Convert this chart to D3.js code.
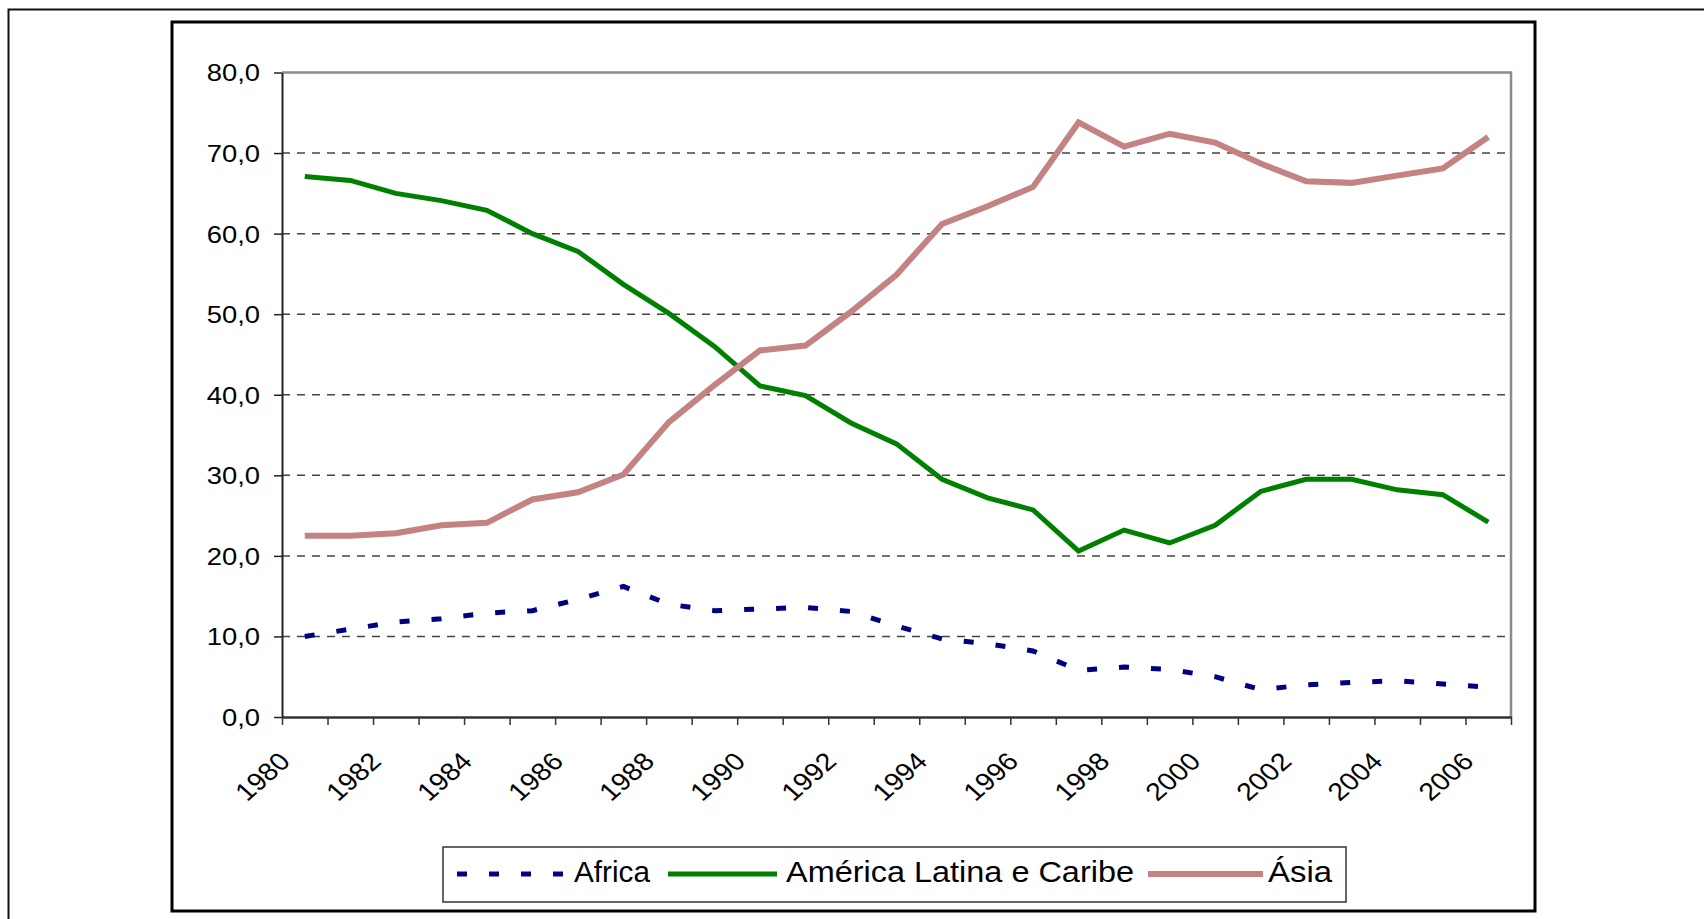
<!DOCTYPE html>
<html>
<head>
<meta charset="utf-8">
<script src="https://cdn.jsdelivr.net/npm/d3@7"></script>
<style>
  html, body { margin: 0; padding: 0; background: #fff; }
  svg { display: block; font-family: "Liberation Sans", Arial, sans-serif; }
</style>
</head>
<body>
<svg id="chart" width="1704" height="919"></svg>
<script>
// years on the category axis
const years = d3.range(1980, 2007);
const yearLabels = years.filter(y => y % 2 === 0);

// shares (%)
const africa = [10.0, 10.9, 11.8, 12.2, 12.9, 13.2, 14.6, 16.2, 14.0, 13.2,
                13.4, 13.6, 13.1, 11.3, 9.7, 9.1, 8.2, 5.8, 6.2, 5.9,
                5.0, 3.4, 4.0, 4.3, 4.5, 4.1, 3.7];
const americaLatina = [67.1, 66.6, 65.0, 64.1, 62.9, 60.0, 57.8, 53.7, 50.1, 46.0,
                       41.1, 39.9, 36.5, 33.9, 29.5, 27.2, 25.7, 20.6, 23.2, 21.6,
                       23.8, 28.0, 29.5, 29.5, 28.2, 27.6, 24.2];
const asia = [22.5, 22.5, 22.8, 23.8, 24.1, 27.0, 27.9, 30.1, 36.6, 41.2,
              45.5, 46.1, 50.3, 54.9, 61.2, 63.4, 65.8, 73.8, 70.8, 72.4,
              71.3, 68.7, 66.5, 66.3, 67.2, 68.1, 72.0];

const yTicks = [0, 10, 20, 30, 40, 50, 60, 70, 80];

const series = [
  { name: 'Africa', values: africa, color: '#000080', width: 5, dash: '10 22', textW: 76 },
  { name: 'América Latina e Caribe', values: americaLatina, color: '#008000', width: 5, dash: null, textW: 348 },
  { name: 'Ásia', values: asia, color: '#C48282', width: 6, dash: null, textW: 64 }
];

const svg = d3.select('#chart');
const PL = 282, PR = 1511, PT = 72.5, PB = 717;
const STRETCH = 1.14;   // text in the original is a bit wide

// outer frame (runs off the right/bottom of the picture)
svg.append('path')
  .attr('d', `M8.5,925 V9.5 H1710`)
  .attr('fill', 'none').attr('stroke', '#111').attr('stroke-width', 2);

// chart frame
svg.append('rect')
  .attr('x', 172).attr('y', 22).attr('width', 1363).attr('height', 889)
  .attr('fill', '#fff').attr('stroke', '#000').attr('stroke-width', 3);

const x = d3.scaleBand().domain(years).range([PL, PR]).padding(0);
const xEdge = d3.scaleLinear().domain([0, years.length]).range([PL, PR]);
const y = d3.scaleLinear().domain([0, 80]).range([PB, PT]);

// gridlines
svg.append('g')
  .selectAll('line')
  .data(yTicks.filter(t => t > 0 && t < 80))
  .join('line')
  .attr('x1', PL).attr('x2', PR)
  .attr('y1', d => y(d)).attr('y2', d => y(d))
  .attr('stroke', '#444').attr('stroke-width', 1.5)
  .attr('stroke-dasharray', '8 7');

// top / right border of plot area
svg.append('path')
  .attr('d', `M${PL},${y(80)} H${PR} V${PB}`)
  .attr('fill', 'none').attr('stroke', '#8c8c8c').attr('stroke-width', 2.5);

// y axis
const yAxis = svg.append('g')
  .attr('transform', `translate(${PL},0)`)
  .call(d3.axisLeft(y).tickValues(yTicks).tickSize(8).tickSizeOuter(0)
    .tickFormat(d => d.toFixed(1).replace('.', ',')));
yAxis.select('.domain').attr('stroke', '#222').attr('stroke-width', 2);
yAxis.selectAll('.tick line').attr('stroke', '#222').attr('stroke-width', 1.5);
yAxis.selectAll('.tick text')
  .attr('x', 0).attr('dy', '0.35em')
  .attr('font-size', 24).attr('fill', '#000')
  .attr('transform', `translate(-22,0) scale(${STRETCH},1)`);

// x axis: ticks on category boundaries
const xAxis = svg.append('g')
  .attr('transform', `translate(0,${PB})`)
  .call(d3.axisBottom(xEdge).tickValues(d3.range(years.length + 1)).tickSize(8)
    .tickSizeOuter(0).tickFormat(''));
xAxis.select('.domain').attr('stroke', '#333').attr('stroke-width', 2.5);
xAxis.selectAll('.tick line').attr('stroke', '#333').attr('stroke-width', 1.5);

svg.append('g')
  .selectAll('text')
  .data(yearLabels)
  .join('text')
  .attr('text-anchor', 'end')
  .attr('font-size', 25)
  .attr('transform', d => `translate(${x(d) + x.bandwidth() / 2 - 13},763) scale(${STRETCH},1) rotate(-45)`)
  .text(d => d);

// lines
const line = d3.line()
  .x((d, i) => x(years[i]) + x.bandwidth() / 2)
  .y(d => y(d));

svg.append('g')
  .selectAll('path')
  .data(series)
  .join('path')
  .attr('d', d => line(d.values))
  .attr('fill', 'none')
  .attr('stroke', d => d.color)
  .attr('stroke-width', d => d.width)
  .attr('stroke-dasharray', d => d.dash)
  .attr('stroke-linejoin', 'miter');

// legend
const legend = svg.append('g');
legend.append('rect')
  .attr('x', 443).attr('y', 847).attr('width', 903).attr('height', 55)
  .attr('fill', '#fff').attr('stroke', '#333').attr('stroke-width', 1.5);

const legendPos = [
  { x1: 457, x2: 563, tx: 574 },
  { x1: 668, x2: 777, tx: 786 },
  { x1: 1148, x2: 1263, tx: 1268 }
];
series.forEach((s, i) => {
  const p = legendPos[i];
  legend.append('line')
    .attr('x1', p.x1).attr('x2', p.x2).attr('y1', 874).attr('y2', 874)
    .attr('stroke', s.color).attr('stroke-width', s.width)
    .attr('stroke-dasharray', s.dash);
  legend.append('text')
    .attr('x', p.tx).attr('y', 882)
    .attr('font-size', 29)
    .attr('textLength', s.textW)
    .attr('lengthAdjust', 'spacingAndGlyphs')
    .text(s.name);
});
</script>
</body>
</html>
